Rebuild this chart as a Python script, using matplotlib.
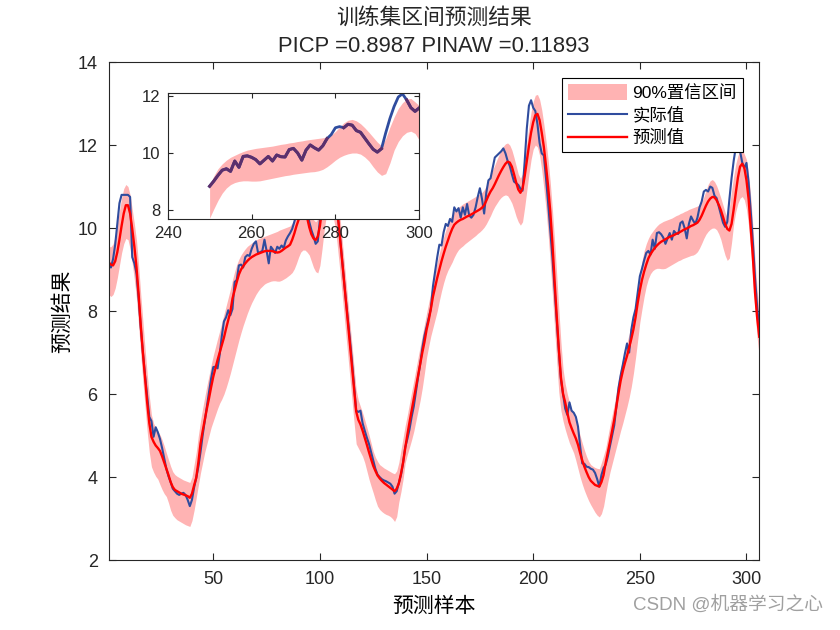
import numpy as np
import matplotlib.pyplot as plt

plt.rcParams['font.family'] = ['Liberation Sans', 'Noto Sans CJK SC']

# actual values (blue line), samples 1..306
actual = [
    9.10, 9.05, 9.25, 9.60, 10.10, 10.60, 10.80, 10.80, 10.80, 10.80,
    10.75, 9.30, 9.15, 8.90, 8.30, 7.60, 7.00, 6.45, 5.95, 5.45,
    5.35, 4.97, 5.20, 5.08, 4.92, 4.70, 4.45, 4.20, 4.02, 3.88,
    3.72, 3.66, 3.60, 3.57, 3.60, 3.62, 3.57, 3.45, 3.30, 3.45,
    3.75, 3.98, 4.25, 4.60, 5.00, 5.35, 5.70, 6.05, 6.38, 6.65,
    6.66, 6.62, 6.95, 7.40, 7.75, 7.85, 8.02, 7.90, 8.05, 8.70,
    8.75, 9.10, 9.12, 9.05, 9.30, 9.35, 9.33, 9.50, 9.62, 9.68,
    9.40, 9.42, 9.45, 9.72, 9.45, 9.15, 9.55, 9.48, 9.40, 9.55,
    9.50, 9.58, 9.52, 9.70, 9.80, 9.88, 9.98, 10.15, 10.35, 10.50,
    10.65, 10.80, 10.70, 10.45, 10.15, 9.95, 9.80, 9.62, 9.68, 10.20,
    10.80, 11.30, 11.70, 11.85, 11.80, 11.50, 11.00, 10.50, 10.00, 9.45,
    8.90, 8.35, 7.85, 7.35, 6.80, 6.20, 5.60, 5.57, 5.60, 5.30,
    5.12, 4.95, 4.80, 4.60, 4.40, 4.20, 4.06, 4.00, 3.95, 3.92,
    3.90, 3.87, 3.84, 3.77, 3.60, 3.66, 3.85, 4.05, 4.35, 4.72,
    4.92, 5.15, 5.45, 5.70, 6.05, 6.40, 6.72, 7.10, 7.40, 7.62,
    7.85, 8.05, 8.60, 8.95, 9.30, 9.60, 9.58, 9.90, 10.10, 10.05,
    10.22, 10.15, 10.50, 10.40, 10.48, 10.25, 10.50, 10.32, 10.58, 10.30,
    10.25, 10.32, 10.50, 10.75, 10.96, 10.70, 10.35, 10.85, 11.15, 11.20,
    11.45, 11.70, 11.75, 11.80, 11.85, 11.92, 11.80, 11.62, 11.50, 11.30,
    11.12, 11.08, 11.04, 10.95, 10.90, 11.60, 12.40, 12.95, 13.08, 12.90,
    12.82, 12.50, 12.05, 11.80, 11.75, 11.20, 10.60, 9.95, 9.30, 8.55,
    7.80, 7.05, 6.35, 6.00, 5.65, 5.50, 5.80, 5.60, 5.55, 5.45,
    5.22, 4.75, 4.33, 4.32, 4.25, 4.24, 4.20, 4.18, 4.10, 3.95,
    3.77, 4.05, 4.22, 4.30, 4.50, 4.75, 5.00, 5.25, 5.70, 6.15,
    6.45, 6.70, 6.98, 7.22, 7.00, 7.55, 7.85, 8.05, 8.45, 8.84,
    9.02, 9.22, 9.40, 9.45, 9.36, 9.72, 9.50, 9.88, 9.90, 9.85,
    9.77, 9.62, 9.75, 9.88, 9.72, 9.93, 9.87, 9.86, 10.12, 10.16,
    10.00, 9.75, 10.10, 10.28, 10.18, 10.10, 10.25, 10.50, 10.64, 10.88,
    10.92, 10.88, 11.00, 10.97, 10.78, 10.72, 10.52, 10.32, 10.13, 10.03,
    10.15, 10.70, 11.20, 11.62, 11.95, 12.06, 11.85, 11.58, 11.45, 11.57,
    11.10, 10.40, 9.65, 8.80, 8.10, 7.60,
]

# predicted values (red line)
predicted = [
    9.17, 9.12, 9.10, 9.20, 9.42, 9.72, 10.05, 10.35, 10.55, 10.55,
    10.35, 9.98, 9.55, 9.05, 8.40, 7.65, 7.00, 6.40, 5.80, 5.30,
    4.97, 4.85, 4.76, 4.70, 4.63, 4.50, 4.35, 4.20, 4.05, 3.88,
    3.76, 3.69, 3.66, 3.63, 3.60, 3.58, 3.56, 3.54, 3.50, 3.60,
    3.80, 3.98, 4.35, 4.80, 5.10, 5.38, 5.65, 5.90, 6.17, 6.42,
    6.62, 6.82, 7.00, 7.18, 7.36, 7.58, 7.78, 7.98, 8.30, 8.50,
    8.70, 8.88, 9.00, 9.08, 9.15, 9.21, 9.26, 9.30, 9.33, 9.36,
    9.38, 9.40, 9.42, 9.44, 9.45, 9.45, 9.45, 9.44, 9.42, 9.41,
    9.42, 9.45, 9.49, 9.53, 9.56, 9.60, 9.72, 9.87, 10.05, 10.20,
    10.32, 10.38, 10.37, 10.25, 10.02, 9.85, 9.75, 9.71, 9.80, 10.05,
    10.45, 10.85, 11.15, 11.35, 11.35, 11.15, 10.85, 10.45, 10.00, 9.45,
    8.90, 8.35, 7.80, 7.25, 6.70, 6.15, 5.58, 5.38, 5.27, 5.12,
    4.95, 4.78, 4.60, 4.43, 4.27, 4.15, 4.04, 3.97, 3.91, 3.86,
    3.82, 3.78, 3.74, 3.70, 3.66, 3.72, 3.85, 4.08, 4.35, 4.70,
    5.02, 5.32, 5.60, 5.87, 6.16, 6.45, 6.73, 7.00, 7.25, 7.55,
    7.78, 8.05, 8.35, 8.58, 8.80, 9.00, 9.20, 9.38, 9.55, 9.70,
    9.85, 9.98, 10.08, 10.13, 10.17, 10.20, 10.22, 10.25, 10.28, 10.30,
    10.33, 10.36, 10.39, 10.42, 10.45, 10.49, 10.55, 10.66, 10.78, 10.88,
    10.96, 11.06, 11.17, 11.28, 11.38, 11.47, 11.55, 11.60, 11.58, 11.48,
    11.30, 11.10, 10.93, 10.85, 10.95, 11.25, 11.62, 11.98, 12.30, 12.55,
    12.72, 12.75, 12.60, 12.30, 11.95, 11.50, 11.00, 10.40, 9.65, 8.75,
    7.90, 7.10, 6.40, 6.00, 5.80, 5.55, 5.32, 5.18, 5.05, 4.93,
    4.78, 4.58, 4.40, 4.25, 4.12, 4.00, 3.91, 3.86, 3.81, 3.79,
    3.77, 3.88, 4.05, 4.35, 4.60, 4.85, 5.12, 5.38, 5.70, 6.02,
    6.32, 6.55, 6.75, 6.92, 7.12, 7.33, 7.56, 7.85, 8.20, 8.50,
    8.75, 8.95, 9.12, 9.27, 9.37, 9.45, 9.52, 9.58, 9.63, 9.67,
    9.70, 9.73, 9.76, 9.79, 9.81, 9.83, 9.86, 9.88, 9.91, 9.94,
    9.97, 9.99, 10.02, 10.05, 10.07, 10.10, 10.13, 10.20, 10.30, 10.42,
    10.54, 10.64, 10.71, 10.75, 10.74, 10.67, 10.56, 10.43, 10.27, 10.10,
    9.98, 9.94, 10.10, 10.45, 10.85, 11.22, 11.48, 11.55, 11.45, 11.15,
    10.70, 10.00, 9.30, 8.45, 7.85, 7.38,
]

# 90% interval, upper bound
upper = [
    9.55, 9.55, 9.62, 9.80, 10.10, 10.42, 10.72, 10.95, 11.05, 11.00,
    10.80, 10.45, 10.10, 9.70, 9.10, 8.40, 7.75, 7.10, 6.50, 5.95,
    5.50, 5.30, 5.18, 5.10, 5.02, 4.90, 4.75, 4.58, 4.42, 4.26,
    4.13, 4.06, 4.02, 3.99, 3.96, 3.93, 3.91, 3.89, 3.87, 4.00,
    4.30, 4.60, 5.00, 5.35, 5.65, 5.93, 6.20, 6.45, 6.70, 6.93,
    7.13, 7.33, 7.52, 7.72, 7.92, 8.12, 8.32, 8.52, 8.75, 8.95,
    9.12, 9.25, 9.35, 9.43, 9.50, 9.56, 9.60, 9.64, 9.68, 9.71,
    9.74, 9.76, 9.78, 9.80, 9.82, 9.84, 9.86, 9.88, 9.90, 9.92,
    9.95, 9.97, 9.99, 10.01, 10.03, 10.05, 10.12, 10.22, 10.35, 10.50,
    10.65, 10.75, 10.78, 10.70, 10.50, 10.32, 10.20, 10.15, 10.22, 10.50,
    10.90, 11.30, 11.65, 11.85, 11.85, 11.65, 11.30, 10.85, 10.45, 9.95,
    9.40, 8.85, 8.30, 7.75, 7.20, 6.65, 6.10, 5.85, 5.70, 5.55,
    5.38, 5.20, 5.02, 4.82, 4.62, 4.48, 4.38, 4.30, 4.26, 4.22,
    4.19, 4.16, 4.13, 4.10, 4.08, 4.15, 4.35, 4.65, 4.95, 5.25,
    5.50, 5.78, 6.05, 6.32, 6.60, 6.88, 7.15, 7.42, 7.68, 7.95,
    8.20, 8.45, 8.70, 8.95, 9.18, 9.40, 9.60, 9.78, 9.95, 10.10,
    10.22, 10.32, 10.40, 10.45, 10.50, 10.54, 10.58, 10.61, 10.64, 10.67,
    10.70, 10.73, 10.76, 10.79, 10.82, 10.86, 10.92, 11.02, 11.15, 11.28,
    11.40, 11.52, 11.65, 11.77, 11.88, 11.97, 12.03, 12.05, 12.00, 11.88,
    11.70, 11.50, 11.30, 11.20, 11.30, 11.65, 12.05, 12.45, 12.80, 13.05,
    13.20, 13.22, 13.10, 12.85, 12.50, 12.10, 11.65, 11.10, 10.45, 9.70,
    8.90, 8.05, 7.25, 6.60, 6.25, 6.00, 5.80, 5.62, 5.50, 5.36,
    5.20, 5.00, 4.82, 4.65, 4.50, 4.38, 4.30, 4.26, 4.23, 4.21,
    4.20, 4.35, 4.52, 4.70, 4.98, 5.25, 5.50, 5.75, 6.05, 6.35,
    6.62, 6.85, 7.05, 7.25, 7.45, 7.68, 7.92, 8.20, 8.55, 8.90,
    9.20, 9.45, 9.62, 9.75, 9.85, 9.92, 9.99, 10.05, 10.10, 10.13,
    10.16, 10.18, 10.20, 10.22, 10.24, 10.27, 10.30, 10.32, 10.35, 10.37,
    10.40, 10.42, 10.45, 10.47, 10.49, 10.51, 10.53, 10.56, 10.62, 10.75,
    10.90, 11.05, 11.14, 11.17, 11.12, 11.02, 10.88, 10.72, 10.55, 10.38,
    10.25, 10.50, 10.90, 11.25, 11.55, 11.75, 11.88, 11.90, 11.78, 11.65,
    11.30, 10.75, 10.05, 9.25, 8.50, 7.95,
]

# 90% interval, lower bound
lower = [
    8.40, 8.35, 8.40, 8.55, 8.80, 9.10, 9.40, 9.62, 9.75, 9.72,
    9.50, 9.15, 8.75, 8.30, 7.65, 6.95, 6.30, 5.70, 5.10, 4.60,
    4.25, 4.12, 4.02, 3.95, 3.82, 3.70, 3.60, 3.53, 3.38, 3.20,
    3.08, 3.02, 2.97, 2.94, 2.91, 2.88, 2.85, 2.83, 2.81, 2.95,
    3.20, 3.50, 3.80, 4.10, 4.35, 4.60, 4.80, 5.00, 5.20, 5.35,
    5.50, 5.65, 5.78, 5.88, 6.00, 6.15, 6.32, 6.50, 6.70, 6.90,
    7.10, 7.30, 7.48, 7.65, 7.80, 7.95, 8.08, 8.20, 8.30, 8.40,
    8.48, 8.55, 8.60, 8.65, 8.68, 8.70, 8.72, 8.73, 8.73, 8.72,
    8.72, 8.74, 8.77, 8.80, 8.84, 8.88, 8.93, 9.02, 9.15, 9.30,
    9.42, 9.47, 9.47, 9.42, 9.35, 9.20, 9.05, 8.95, 8.92, 9.10,
    9.50, 9.95, 10.30, 10.50, 10.50, 10.35, 10.05, 9.65, 9.15, 8.62,
    8.08, 7.52, 6.98, 6.42, 5.88, 5.32, 4.80, 4.70, 4.60, 4.50,
    4.35, 4.15, 3.95, 3.78, 3.62, 3.45, 3.30, 3.22, 3.17, 3.13,
    3.10, 3.08, 3.05, 3.00, 2.93, 3.05, 3.40, 3.65, 3.95, 4.35,
    4.55, 4.72, 4.90, 5.10, 5.35, 5.60, 5.85, 6.15, 6.50, 6.88,
    7.15, 7.40, 7.60, 7.80, 8.00, 8.25, 8.48, 8.68, 8.85, 8.98,
    9.08, 9.18, 9.30, 9.40, 9.48, 9.53, 9.57, 9.62, 9.66, 9.70,
    9.74, 9.78, 9.82, 9.87, 9.91, 9.96, 10.02, 10.10, 10.20, 10.30,
    10.42, 10.52, 10.60, 10.68, 10.74, 10.78, 10.80, 10.78, 10.70, 10.60,
    10.45, 10.28, 10.15, 10.07, 10.15, 10.50, 10.90, 11.30, 11.65, 11.90,
    12.00, 11.95, 11.75, 11.40, 10.95, 10.45, 9.85, 9.15, 8.40, 7.60,
    6.80, 6.05, 5.60, 5.35, 5.15, 4.98, 4.82, 4.70, 4.58, 4.40,
    4.20, 4.00, 3.83, 3.68, 3.55, 3.43, 3.33, 3.24, 3.15, 3.08,
    3.04, 3.12, 3.30, 3.60, 3.88, 4.12, 4.32, 4.52, 4.72, 4.92,
    5.12, 5.30, 5.50, 5.70, 5.92, 6.18, 6.50, 6.88, 7.30, 7.73,
    8.05, 8.35, 8.60, 8.78, 8.90, 8.97, 9.01, 9.03, 9.03, 9.02,
    9.02, 9.03, 9.06, 9.09, 9.12, 9.15, 9.18, 9.21, 9.23, 9.26,
    9.28, 9.30, 9.32, 9.34, 9.35, 9.38, 9.43, 9.52, 9.63, 9.75,
    9.85, 9.92, 9.97, 10.00, 10.00, 9.96, 9.86, 9.72, 9.52, 9.34,
    9.22, 9.28, 9.65, 10.10, 10.40, 10.60, 10.72, 10.76, 10.68, 10.45,
    10.05, 9.45, 8.75, 8.00, 7.35, 6.90,
]

actual = np.array(actual)
predicted = np.array(predicted)
upper = np.array(upper)
lower = np.array(lower)
idx = np.arange(1, len(actual) + 1)

band_color = '#FFB3B3'
blue = '#2F4C9E'
purple = '#5C2F6C'

fig = plt.figure(figsize=(8.4, 6.3), dpi=100)
ax = fig.add_axes([0.1295, 0.111, 0.7744, 0.7905])

ax.fill_between(idx, lower, upper, color=band_color, lw=0, label='90%置信区间')
ax.plot(idx, actual, color=blue, lw=1.5, label='实际值')
ax.plot(idx, predicted, color='red', lw=1.7, label='预测值')

ax.set_xlim(1, len(idx))
ax.set_ylim(2, 14)
ax.set_xticks([50, 100, 150, 200, 250, 300])
ax.set_yticks([2, 4, 6, 8, 10, 12, 14])
ax.tick_params(direction='in', top=True, right=True, length=5, width=0.8,
               labelsize=13, pad=8, colors='#262626')
for s in ax.spines.values():
    s.set_linewidth(0.8)
    s.set_color('#262626')

ax.set_xlabel('预测样本', fontsize=15, family=['Noto Sans CJK SC'], labelpad=5)
ax.set_ylabel('预测结果', fontsize=15, family=['Noto Sans CJK SC'], labelpad=3)

leg = ax.legend(loc='upper right', bbox_to_anchor=(0.975, 0.968), borderaxespad=0,
                fontsize=12.5, frameon=True, fancybox=False, framealpha=1,
                edgecolor='black', handlelength=3.4, handleheight=1.0,
                handletextpad=0.3, labelspacing=0.35, borderpad=0.35)
leg.get_frame().set_linewidth(0.8)

# two-line title
cx = 434 / 840
fig.text(cx, 1 - 18 / 630, '训练集区间预测结果', ha='center', va='center',
         fontsize=15.7, family=['Noto Sans CJK SC'], color='#262626')
fig.text(cx, 1 - 46 / 630, 'PICP =0.8987 PINAW =0.11893', ha='center', va='center',
         fontsize=15.8, color='#262626')

# inset zoom of samples 250-300
axin = fig.add_axes([0.1996, 0.6524, 0.2995, 0.1995])
sel = (idx >= 250) & (idx <= 300)
axin.fill_between(idx[sel], lower[sel], upper[sel], color=band_color, lw=0)
axin.plot(idx[sel], actual[sel], color=blue, lw=2.0)
inside = np.where((actual >= lower) & (actual <= upper), actual, np.nan)
axin.plot(idx[sel], inside[sel], color=purple, lw=2.2)
axin.set_xlim(240, 300)
axin.set_ylim(7.7, 12.08)
axin.set_xticks([240, 260, 280, 300])
axin.set_yticks([8, 10, 12])
axin.tick_params(direction='in', top=True, right=True, length=3.5, width=0.8,
                 labelsize=12, pad=5, colors='#262626')
for s in axin.spines.values():
    s.set_linewidth(0.8)
    s.set_color('#262626')

fig.text(823 / 840, 1 - 605 / 630, 'CSDN @机器学习之心', ha='right', va='center',
         fontsize=13.5, color='#A0A0A0')

fig.savefig('out.png', dpi=100)
